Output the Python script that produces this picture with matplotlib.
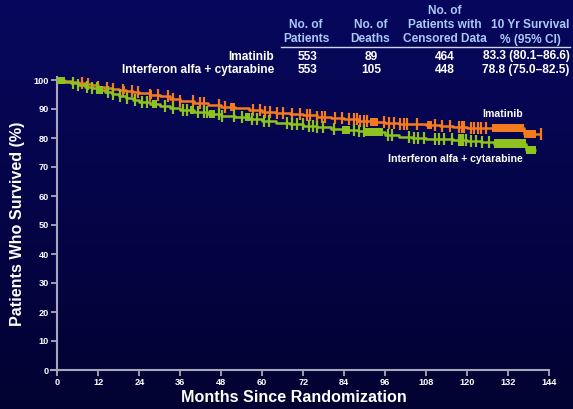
import numpy as np
import matplotlib
matplotlib.use("Agg")
import matplotlib.pyplot as plt
from matplotlib.colors import LinearSegmentedColormap

plt.rcParams['font.family'] = ['Liberation Sans', 'DejaVu Sans']
plt.rcParams['font.weight'] = 'bold'

# ---- data ----
imat_times = [0, 2, 4, 6, 8, 10, 12, 14, 16, 18, 20, 22, 24, 27, 30, 33, 36, 40, 44, 48, 52, 56, 60,
              64, 68, 72, 76, 80, 84, 88, 92, 96, 100, 104, 108, 112, 116, 120, 124, 128, 136.8, 141.7]
imat_surv = [100, 99.7, 99.3, 99.0, 98.6, 98.2, 97.7, 97.3, 96.9, 96.5, 96.1, 95.8, 95.5, 95.0, 94.4,
             93.5, 92.7, 92.0, 91.4, 90.8, 90.3, 89.7, 89.1, 88.6, 88.2, 87.8, 87.3, 86.8, 86.4, 86.0,
             85.6, 85.3, 85.0, 84.7, 84.4, 84.1, 83.8, 83.6, 83.4, 83.3, 81.3, 81.3]
imat_censor = [7.1, 9.1, 12.0, 14.5, 16.4, 19.3, 21.8, 23.7, 27.2, 29.6, 32.5, 34.0, 36.0, 39.7, 41.8,
               42.8, 47.2, 49.1, 57.3, 59.4, 60.9, 62.3, 64.3, 66.2, 68.7, 71.1, 73.1, 73.9, 76.0,
               77.5, 78.5, 81.4, 83.4, 85.3, 86.8, 87.8, 88.7, 89.7, 90.7, 95.6, 97.0, 98.5, 100.5,
               101.4, 102.4, 105.4, 110.7, 112.7, 115.1, 117.6, 118.6, 119.1, 121.1, 122.1, 123.1,
               124.1, 125.6, 141.7]
imat_blocks = [(18.9, 19.7), (26.8, 27.6), (50.6, 52.1), (91.7, 94.0), (108.3, 109.8),
               (127.4, 136.8), (136.8, 140.3)]

ifn_times = [0, 2, 4, 6, 8, 10, 12, 14, 16, 18, 20, 22, 24, 27, 30, 33, 36, 40, 44, 48, 52, 56, 60,
             64, 68, 72, 76, 80, 84, 88, 92, 96, 100, 104, 108, 112, 116, 120, 124, 128, 137.4, 140.3]
ifn_surv = [100, 99.4, 98.8, 98.2, 97.7, 97.2, 96.7, 95.9, 95.1, 94.4, 93.7, 93.0, 92.3, 91.6, 90.9,
            90.3, 89.6, 88.9, 88.3, 87.7, 87.2, 86.6, 85.9, 85.2, 84.7, 84.2, 83.7, 83.2, 82.9, 82.5,
            82.0, 81.2, 80.5, 80.1, 79.8, 79.5, 79.2, 79.0, 78.7, 78.1, 75.8, 75.8]
ifn_censor = [4.7, 6.1, 8.6, 10.1, 11.5, 14.9, 16.4, 18.4, 20.3, 22.8, 24.7, 26.2, 31.6, 34.0, 36.9,
              37.9, 41.3, 42.8, 43.8, 47.2, 48.2, 51.6, 54.1, 57.0, 58.6, 60.4, 61.9, 67.2, 68.7,
              70.2, 71.9, 73.6, 74.9, 76.0, 77.8, 80.9, 86.8, 88.2, 89.7, 96.7, 98.0, 102.9, 104.4,
              105.5, 107.3, 110.7, 111.7, 113.2, 115.6, 117.6, 118.1, 118.9, 119.6, 121.1, 122.5,
              124.5, 126.4]
ifn_blocks = [(0.0, 2.2), (12.0, 13.4), (27.6, 29.1), (38.7, 40.1), (44.5, 46.2), (55.0, 56.3),
              (83.4, 85.8), (90.2, 95.4), (127.9, 137.4), (137.4, 140.3)]

x_ticks = list(range(0, 145, 12))
y_ticks = list(range(0, 101, 10))

table_groups = ["Imatinib", "Interferon alfa + cytarabine"]
table_headers = ["No. of\nPatients", "No. of\nDeaths", "No. of\nPatients with\nCensored Data",
                 "10 Yr Survival\n% (95% CI)"]
table_rows = [["553", "89", "464", "83.3 (80.1\u201386.6)"],
              ["553", "105", "448", "78.8 (75.0\u201382.5)"]]

ORANGE = "#f47a1f"
GREEN = "#8dc21f"
AXC = "#a8a8bc"
HEADC = "#a9c9f5"

W, H = 573, 409
fig = plt.figure(figsize=(W / 100, H / 100), dpi=100)

# background gradient
bg = fig.add_axes([0, 0, 1, 1], zorder=-10)
grad = np.linspace(0, 1, 256).reshape(-1, 1)
cmap = LinearSegmentedColormap.from_list("bg", ["#07075e", "#020232"])
bg.imshow(grad, aspect='auto', cmap=cmap, extent=[0, 1, 0, 1])
bg.axis('off')


def px(x, y):
    return x / W, 1 - y / H


x0_px, xr_px = 57.4, 549.0
ppm = (xr_px - x0_px) / 144
xmin = -6.0 / ppm
y0_px, y100_px = 370.0, 80.0
ppu = (y0_px - y100_px) / 100
ytop = 101.0
left = (x0_px + xmin * ppm) / W
bottom = (H - y0_px) / H
width = (xr_px - (x0_px + xmin * ppm)) / W
height = (ytop * ppu) / H
ax = fig.add_axes([left, bottom, width, height])
ax.set_facecolor('none')
ax.set_xlim(xmin, 144)
ax.set_ylim(0, ytop)

for s in ['top', 'right']:
    ax.spines[s].set_visible(False)
ax.spines['left'].set_position(('data', 0))
for s in ['left', 'bottom']:
    ax.spines[s].set_color(AXC)
    ax.spines[s].set_linewidth(1.5)
ax.spines['left'].set_bounds(-0.8, ytop)
ax.set_xticks(x_ticks)
ax.set_yticks(y_ticks)
ax.tick_params(axis='both', colors=AXC, length=4, width=1.3, direction='out',
               labelcolor='white', labelsize=6.6, pad=2)
for lab in ax.get_xticklabels() + ax.get_yticklabels():
    lab.set_fontweight('bold')


def step_val(times, surv, t):
    i = np.searchsorted(times, t, side='right') - 1
    return np.asarray(surv)[i]


def draw_arm(times, surv, censor, blocks, color, z):
    ax.plot(times, surv, drawstyle='steps-post', color=color, lw=1.8, zorder=z,
            solid_capstyle='butt')
    cy = step_val(times, surv, np.array(censor))
    ax.plot(censor, cy, linestyle='none', marker='|', markersize=8.5, mew=1.6,
            color=color, zorder=z)
    for a, b in blocks:
        v = step_val(times, surv, (a + b) / 2)
        ax.fill_between([a, b], [v - 1.4, v - 1.4], [v + 1.4, v + 1.4],
                        color=color, lw=0, zorder=z)


draw_arm(imat_times, imat_surv, imat_censor, imat_blocks, ORANGE, 3)
draw_arm(ifn_times, ifn_surv, ifn_censor, ifn_blocks, GREEN, 4)

fig.text(*px(523, 114), "Imatinib", color='white', fontsize=7.6, fontweight='bold',
         ha='right', va='center')
fig.text(*px(523, 159), "Interferon alfa + cytarabine", color='white', fontsize=7.6,
         fontweight='bold', ha='right', va='center')

fig.text(*px(294, 398), "Months Since Randomization", color='white', fontsize=11.6,
         fontweight='bold', ha='center', va='center')
fig.text(*px(18, 224), "Patients Who Survived (%)", color='white', fontsize=11.6,
         fontweight='bold', ha='center', va='center', rotation=90)

# table
head_x = [306, 370.5, 445, 530]
data_x = [307, 371, 445, 526]
line_y = [11.5, 25, 39.5]
for cx, htxt in zip(head_x, table_headers):
    lines = htxt.split("\n")
    for ly, ln in zip(line_y[-len(lines):], lines):
        fig.text(*px(cx, ly), ln, color=HEADC, fontsize=8.6, fontweight='bold',
                 ha='center', va='center')
fig.add_artist(plt.Line2D([281 / W, 570 / W], [1 - 46.5 / H, 1 - 46.5 / H], color='#d0d4ea',
                          lw=1.0))
row_y = [56.5, 70]
for ry, g, row in zip(row_y, table_groups, table_rows):
    fig.text(*px(274, ry), g, color='white', fontsize=8.6, fontweight='bold', ha='right',
             va='center')
    for cx, v in zip(data_x, row):
        fig.text(*px(cx, ry), v, color='white', fontsize=8.6, fontweight='bold',
                 ha='center', va='center')

fig.savefig("out.png", dpi=100, facecolor='#03034a')
